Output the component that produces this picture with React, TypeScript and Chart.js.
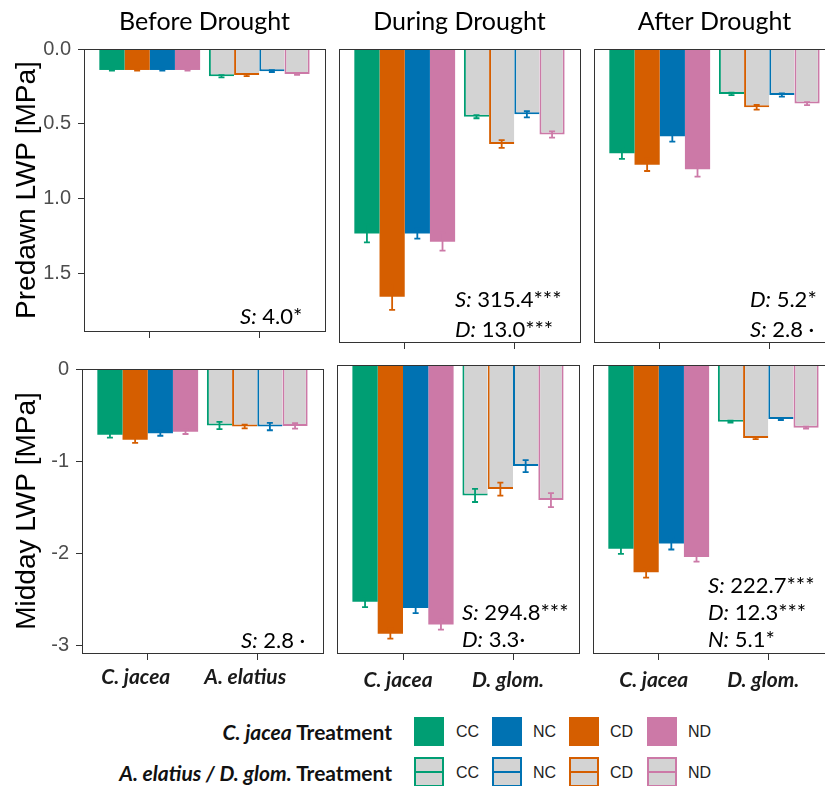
import React, { useEffect, useRef } from 'react';
import { Chart, registerables } from 'chart.js';

Chart.register(...registerables);

// ---------------- data ----------------
const treatments = ['CC', 'CD', 'NC', 'ND'];
const treatmentColors = ['#009E73', '#D55E00', '#0072B2', '#CC79A7'];
const legendOrder = ['CC', 'NC', 'CD', 'ND'];
const periods = ['Before Drought', 'During Drought', 'After Drought'];
const speciesBefore = ['C. jacea', 'A. elatius'];
const speciesLater = ['C. jacea', 'D. glom.'];
const predawnTicks = [0, 0.5, 1.0, 1.5];
const middayTicks = [0, -1, -2, -3];
const rowTitles = ['Predawn LWP [MPa]', 'Midday LWP [MPa]'];

// values per treatment in order CC, CD, NC, ND
const predawnBeforeJacea = [0.14, 0.14, 0.14, 0.14];
const predawnBeforeJaceaErr = [0.005, 0.005, 0.005, 0.005];
const predawnBeforeNeighbour = [0.182, 0.174, 0.148, 0.167];
const predawnBeforeNeighbourErr = [0.008, 0.007, 0.006, 0.006];

const predawnDuringJacea = [1.185, 1.592, 1.185, 1.238];
const predawnDuringJaceaErr = [0.058, 0.085, 0.034, 0.058];
const predawnDuringNeighbour = [0.435, 0.61, 0.42, 0.55];
const predawnDuringNeighbourErr = [0.01, 0.025, 0.02, 0.02];

const predawnAfterJacea = [0.67, 0.744, 0.561, 0.773];
const predawnAfterJaceaErr = [0.036, 0.04, 0.034, 0.047];
const predawnAfterNeighbour = [0.289, 0.375, 0.296, 0.351];
const predawnAfterNeighbourErr = [0.008, 0.015, 0.01, 0.01];

const middayBeforeJacea = [-0.714, -0.767, -0.696, -0.68];
const middayBeforeJaceaErr = [0.03, 0.035, 0.028, 0.025];
const middayBeforeNeighbour = [-0.613, -0.624, -0.624, -0.617];
const middayBeforeNeighbourErr = [0.04, 0.02, 0.04, 0.03];

const middayDuringJacea = [-2.533, -2.873, -2.6, -2.776];
const middayDuringJaceaErr = [0.057, 0.054, 0.054, 0.054];
const middayDuringNeighbour = [-1.395, -1.327, -1.081, -1.445];
const middayDuringNeighbourErr = [0.07, 0.07, 0.064, 0.075];

const middayAfterJacea = [-1.966, -2.216, -1.909, -2.052];
const middayAfterJaceaErr = [0.054, 0.057, 0.064, 0.05];
const middayAfterNeighbour = [-0.606, -0.78, -0.578, -0.67];
const middayAfterNeighbourErr = [0.01, 0.012, 0.01, 0.01];

const notesPredawnBefore = ['S: 4.0*'];
const notesPredawnDuring = ['S: 315.4***', 'D: 13.0***'];
const notesPredawnAfter = ['D: 5.2*', 'S: 2.8 ·'];
const notesMiddayBefore = ['S: 2.8 ·'];
const notesMiddayDuring = ['S: 294.8***', 'D: 3.3·'];
const notesMiddayAfter = ['S: 222.7***', 'D: 12.3***', 'N: 5.1*'];

// ---------------- layout ----------------
const GRAY_FILL = '#D3D3D3';
const FRAME = '#333333';
const TEXT_FONT = 'Lato';

const rowGeom = [
  { top: 0, padTop: 0, areaTop: 49, areaHeight: 293, axisH: 8, yMin: 0, yMax: 1.883, reverse: true },
  { top: 350, padTop: 15, areaTop: 15, areaHeight: 288, axisH: 45, yMin: -3.08, yMax: 0, reverse: false },
];
const colLefts = [[84, 339, 594], [82, 337, 593]];
const colWidths = [[241, 241, 241], [241, 242, 241]];
const labelPad = [[0, 0, 0], [5, 8, 8]];
const labelShift = [-12, -5, -5];
const notePos = [
  [[{ dx: 156, dy: 268 }], [{ dx: 116, dy: 251 }, { dx: 116, dy: 281 }], [{ dx: 156, dy: 251 }, { dx: 156, dy: 281 }]],
  [[{ dx: 159, dy: 272 }], [{ dx: 125, dy: 248 }, { dx: 125, dy: 275 }], [{ dx: 115, dy: 221 }, { dx: 115, dy: 248 }, { dx: 115, dy: 275 }]],
];

const panelData = [
  [
    { jac: predawnBeforeJacea, jacErr: predawnBeforeJaceaErr, nb: predawnBeforeNeighbour, nbErr: predawnBeforeNeighbourErr, species: speciesBefore, notes: notesPredawnBefore },
    { jac: predawnDuringJacea, jacErr: predawnDuringJaceaErr, nb: predawnDuringNeighbour, nbErr: predawnDuringNeighbourErr, species: speciesLater, notes: notesPredawnDuring },
    { jac: predawnAfterJacea, jacErr: predawnAfterJaceaErr, nb: predawnAfterNeighbour, nbErr: predawnAfterNeighbourErr, species: speciesLater, notes: notesPredawnAfter },
  ],
  [
    { jac: middayBeforeJacea, jacErr: middayBeforeJaceaErr, nb: middayBeforeNeighbour, nbErr: middayBeforeNeighbourErr, species: speciesBefore, notes: notesMiddayBefore },
    { jac: middayDuringJacea, jacErr: middayDuringJaceaErr, nb: middayDuringNeighbour, nbErr: middayDuringNeighbourErr, species: speciesLater, notes: notesMiddayDuring },
    { jac: middayAfterJacea, jacErr: middayAfterJaceaErr, nb: middayAfterNeighbour, nbErr: middayAfterNeighbourErr, species: speciesLater, notes: notesMiddayAfter },
  ],
];

const decorPlugin = {
  id: 'panelDecor',
  afterDatasetsDraw(chart: any) {
    const ctx = chart.ctx;
    const yScale = chart.scales.y;
    chart.data.datasets.forEach((ds: any, i: number) => {
      const meta = chart.getDatasetMeta(i);
      meta.data.forEach((bar: any, j: number) => {
        const v = ds.data[j].y;
        const e = ds.errors[j];
        const yA = yScale.getPixelForValue(v - e);
        const yB = yScale.getPixelForValue(v + e);
        ctx.save();
        ctx.strokeStyle = ds.errorColor;
        ctx.lineWidth = 1.8;
        ctx.beginPath();
        ctx.moveTo(bar.x, yA);
        ctx.lineTo(bar.x, yB);
        ctx.moveTo(bar.x - 3, yA);
        ctx.lineTo(bar.x + 3, yA);
        ctx.moveTo(bar.x - 3, yB);
        ctx.lineTo(bar.x + 3, yB);
        ctx.stroke();
        ctx.restore();
      });
    });
  },
  afterDraw(chart: any, _args: any, opts: any) {
    const ctx = chart.ctx;
    const a = chart.chartArea;
    ctx.save();
    ctx.fillStyle = '#000';
    ctx.textBaseline = 'middle';
    ctx.textAlign = 'left';
    (opts.notes || []).forEach((line: string, k: number) => {
      const p = opts.positions[k];
      const idx = line.indexOf(':');
      const key = line.slice(0, idx + 1);
      const rest = line.slice(idx + 1);
      const x = a.left + p.dx;
      const y = a.top + p.dy;
      ctx.font = `italic 22px ${TEXT_FONT}`;
      ctx.fillText(key, x, y);
      const w = ctx.measureText(key).width;
      ctx.font = `22px ${TEXT_FONT}`;
      ctx.fillText(rest, x + w, y);
    });
    ctx.strokeStyle = FRAME;
    ctx.lineWidth = 1;
    ctx.strokeRect(Math.round(a.left) + 0.5, Math.round(a.top) + 0.5, Math.round(a.right - a.left), Math.round(a.bottom - a.top));
    ctx.restore();
  },
};

function buildConfig(row: number, col: number) {
  const g = rowGeom[row];
  const d = panelData[row][col];
  const areaLeft = colLefts[row][col];
  const datasets = treatments.map((t, ti) => ({
    label: t,
    data: [
      { x: 1, y: d.jac[ti] },
      { x: 2, y: d.nb[ti] },
    ],
    errors: [d.jacErr[ti], d.nbErr[ti]],
    errorColor: treatmentColors[ti],
    backgroundColor: [treatmentColors[ti], GRAY_FILL],
    borderColor: treatmentColors[ti],
    borderSkipped: false,
    borderWidth: (ctx: any) =>
      ctx.dataIndex === 0 ? 0 : { left: 2, right: ti === treatments.length - 1 ? 2 : 0, top: 0, bottom: 2 },
    categoryPercentage: 0.92,
    barPercentage: 1,
  }));
  const isFirst = col === 0;
  const yScale: any = {
    type: 'linear',
    display: isFirst,
    min: g.yMin,
    max: g.yMax,
    reverse: g.reverse,
    grid: { display: true, drawOnChartArea: false, drawTicks: true, tickLength: 6, color: FRAME, lineWidth: 1 },
    border: { display: false },
    ticks: {
      padding: 7,
      color: '#4D4D4D',
      font: { family: 'Liberation Sans', size: 20 },
      callback: (v: any) => (row === 0 ? Number(v).toFixed(1) : String(v)),
    },
    title: {
      display: true,
      text: rowTitles[row],
      color: '#000',
      font: { family: 'Liberation Sans', size: 28, lineHeight: 1 },
      padding: { top: 13, bottom: 0 },
    },
  };
  if (isFirst) {
    yScale.afterBuildTicks = (s: any) => {
      s.ticks = (row === 0 ? predawnTicks : middayTicks).map((v) => ({ value: v }));
    };
    yScale.afterFit = (s: any) => {
      s.width = areaLeft;
    };
  }
  return {
    type: 'bar',
    data: { datasets },
    options: {
      responsive: false,
      animation: false,
      events: [],
      layout: { padding: { left: isFirst ? 0 : 6, right: 6, top: g.padTop, bottom: 0 } },
      plugins: {
        legend: { display: false },
        tooltip: { enabled: false },
        title: {
          display: row === 0,
          text: periods[col],
          fullSize: false,
          color: '#000',
          font: { family: TEXT_FONT, size: 25, weight: 'normal', lineHeight: 1.2 },
          padding: { top: 7, bottom: 12 },
        },
        panelDecor: { notes: d.notes, positions: notePos[row][col] },
      },
      scales: {
        x: {
          type: 'linear',
          min: 0.4,
          max: 2.6,
          offset: false,
          afterBuildTicks: (s: any) => {
            s.ticks = [{ value: 1 }, { value: 2 }];
          },
          afterFit: (s: any) => {
            s.height = g.axisH;
          },
          grid: { display: true, drawOnChartArea: false, drawTicks: true, tickLength: 7, color: FRAME, lineWidth: 1, offset: false },
          border: { display: false },
          ticks: {
            display: row === 1,
            autoSkip: false,
            maxRotation: 0,
            minRotation: 0,
            labelOffset: labelShift[col],
            padding: labelPad[row][col],
            color: '#1a1a1a',
            font: { family: TEXT_FONT, size: 21, weight: 'bold', style: 'italic' },
            callback: (_v: any, i: number) => d.species[i],
          },
        },
        y: yScale,
      },
    },
    plugins: [decorPlugin],
  };
}

function Panel({ row, col }: { row: number; col: number }) {
  const ref = useRef<HTMLCanvasElement>(null);
  const g = rowGeom[row];
  const areaLeft = colLefts[row][col];
  const areaW = colWidths[row][col];
  const canvasLeft = col === 0 ? 0 : areaLeft - 6;
  const canvasW = (col === 0 ? areaLeft : 6) + areaW + 6;
  const canvasH = g.areaTop + g.areaHeight + g.axisH;
  useEffect(() => {
    const chart = new Chart(ref.current as HTMLCanvasElement, buildConfig(row, col) as any);
    return () => chart.destroy();
  }, [row, col]);
  return (
    <canvas
      ref={ref}
      width={canvasW}
      height={canvasH}
      style={{ position: 'absolute', left: canvasLeft, top: g.top, width: canvasW, height: canvasH }}
    />
  );
}

const legendBoxLefts = [414, 492, 569, 647];
const legendTextLefts = [456, 533, 610, 688];

function Legend() {
  const rowTops = [717, 757];
  const labelStyle: React.CSSProperties = {
    position: 'absolute',
    left: 0,
    width: 392,
    height: 29,
    lineHeight: '29px',
    textAlign: 'right',
    fontFamily: TEXT_FONT,
    fontWeight: 'bold',
    fontSize: 21,
    color: '#111',
    whiteSpace: 'nowrap',
  };
  return (
    <>
      <div style={{ ...labelStyle, top: rowTops[0] }}>
        <i>C. jacea</i> Treatment
      </div>
      <div style={{ ...labelStyle, top: rowTops[1] + 1 }}>
        <i>A. elatius / D. glom.</i> Treatment
      </div>
      {legendOrder.map((t, k) => {
        const color = treatmentColors[treatments.indexOf(t)];
        return (
          <React.Fragment key={t}>
            <div style={{ position: 'absolute', left: legendBoxLefts[k], top: rowTops[0], width: 30, height: 29, background: color }} />
            <div
              style={{
                position: 'absolute',
                left: legendBoxLefts[k],
                top: rowTops[1],
                width: 30,
                height: 30,
                boxSizing: 'border-box',
                background: GRAY_FILL,
                border: `2px solid ${color}`,
              }}
            >
              <div style={{ position: 'absolute', left: 0, right: 0, top: 12, height: 2, background: color }} />
            </div>
            {[0, 1].map((r) => (
              <div
                key={r}
                style={{
                  position: 'absolute',
                  left: legendTextLefts[k],
                  top: rowTops[r] + (r === 1 ? 1 : 0),
                  height: 29,
                  lineHeight: '29px',
                  fontFamily: 'Liberation Sans',
                  fontSize: 16,
                  color: '#222',
                }}
              >
                {t}
              </div>
            ))}
          </React.Fragment>
        );
      })}
    </>
  );
}

export default function App() {
  return (
    <div style={{ position: 'absolute', left: 0, top: 0, width: 825, height: 786, overflow: 'hidden', background: '#fff' }}>
      {[0, 1].map((r) => [0, 1, 2].map((c) => <Panel key={`${r}-${c}`} row={r} col={c} />))}
      <Legend />
    </div>
  );
}
